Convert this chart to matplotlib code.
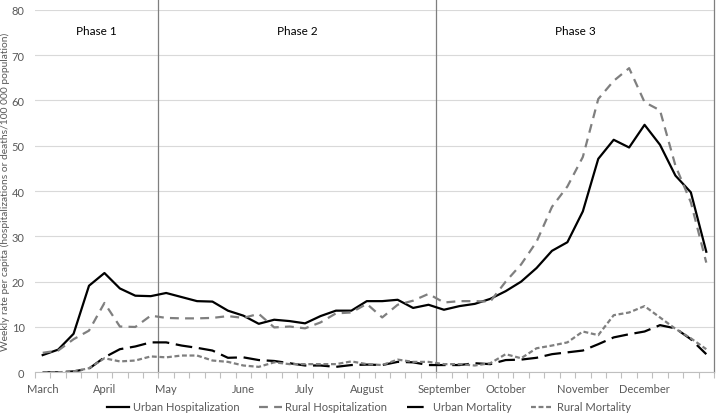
import matplotlib
matplotlib.use("Agg")
import matplotlib.pyplot as plt
import numpy as np

plt.rcParams['font.family'] = ['Lato', 'DejaVu Sans']

month_labels = ["March", "April", "May", "June", "July", "August",
                "September", "October", "November", "December"]
month_week_index = [0, 4, 8, 13, 17, 21, 26, 30, 35, 39]
n_weeks = 44

urban_hosp = [3.8, 5.0, 8.5, 19.1, 21.9, 18.5, 16.9, 16.8, 17.5, 16.6,
              15.7, 15.6, 13.6, 12.5, 10.7, 11.6, 11.3, 10.8, 12.4, 13.6,
              13.6, 15.7, 15.7, 16.0, 14.2, 14.9, 13.8, 14.6, 15.1, 16.2,
              17.9, 20.0, 23.0, 26.8, 28.7, 35.5, 47.1, 51.3, 49.6, 54.6,
              50.2, 43.4, 39.7, 26.6]
rural_hosp = [4.3, 4.8, 7.3, 9.2, 15.3, 10.1, 10.0, 12.5, 12.0, 11.9,
              11.9, 12.0, 12.4, 12.0, 12.9, 9.9, 10.1, 9.7, 11.0, 13.0,
              13.2, 15.1, 12.1, 14.9, 15.8, 17.3, 15.4, 15.7, 15.7, 15.6,
              20.0, 23.8, 28.8, 36.5, 41.0, 47.5, 60.3, 64.3, 67.1, 59.6,
              57.8, 45.6, 37.5, 24.2]
urban_mort = [0.0, 0.0, 0.2, 0.8, 3.3, 5.1, 5.7, 6.6, 6.6, 5.9,
              5.4, 4.8, 3.2, 3.3, 2.7, 2.5, 2.0, 1.5, 1.5, 1.2,
              1.6, 1.7, 1.6, 2.3, 2.2, 1.6, 1.6, 1.6, 2.0, 1.8,
              2.7, 2.8, 3.2, 4.0, 4.4, 4.8, 6.2, 7.7, 8.4, 9.0,
              10.4, 9.7, 7.3, 4.0]
rural_mort = [0.0, 0.0, 0.2, 0.9, 3.1, 2.4, 2.6, 3.5, 3.3, 3.7,
              3.7, 2.6, 2.3, 1.5, 1.2, 2.2, 1.8, 1.8, 1.8, 1.8,
              2.4, 1.8, 1.6, 2.8, 2.3, 2.3, 1.8, 1.8, 1.5, 2.0,
              4.0, 3.1, 5.3, 5.9, 6.6, 9.0, 8.2, 12.6, 13.2, 14.6,
              12.1, 9.6, 7.5, 5.1]
phase_labels = ["Phase 1", "Phase 2", "Phase 3"]
phase_bounds = [-0.5, 7.5, 25.5, 43.5]
y_label = "Weekly rate per capita (hospitalizations or deaths/100 000 population)"

W, H = 716, 414
fig = plt.figure(figsize=(W / 100, H / 100), dpi=100)
ax = fig.add_axes([35 / W, 1 - 373.3 / H, (714 - 35) / W, (373.3 - 10.7) / H])

x = np.arange(n_weeks)
gray = "#7f7f7f"
ax.plot(x, urban_hosp, color="black", lw=1.6, ls="-", label="Urban Hospitalization")
ax.plot(x, rural_hosp, color=gray, lw=1.6, ls=(0, (4, 2.8)), label="Rural Hospitalization")
ax.plot(x, urban_mort, color="black", lw=1.6, ls=(0, (7.5, 3)), label="Urban Mortality")
ax.plot(x, rural_mort, color=gray, lw=1.6, ls=(0, (2.2, 1.2)), label="Rural Mortality")

ax.set_xlim(-0.5, n_weeks - 0.5)
ax.set_ylim(0, 80)
ax.set_yticks(np.arange(0, 81, 10))
ax.yaxis.grid(True, color="#d9d9d9", lw=0.8)
ax.set_axisbelow(True)
for s in ["top", "right", "left"]:
    ax.spines[s].set_visible(False)
ax.spines["bottom"].set_color("#bfbfbf")
ax.spines["bottom"].set_linewidth(0.8)

ax.set_xticks(month_week_index)
ax.set_xticklabels(month_labels)
ax.set_xticks(np.arange(-0.5, n_weeks, 1), minor=True)
ax.tick_params(axis="x", which="major", length=0, pad=8, labelsize=8, labelcolor="#595959")
ax.tick_params(axis="x", which="minor", length=4, width=0.8, color="#bfbfbf", direction="out")
ax.tick_params(axis="y", length=0, pad=7.5, labelsize=8, labelcolor="#595959")

for b in phase_bounds[1:]:
    ax.plot([b, b], [0, 82.4], color=gray, lw=0.9, clip_on=False, zorder=1)
for i, lab in enumerate(phase_labels):
    ax.text((phase_bounds[i] + phase_bounds[i + 1]) / 2, 75.5, lab,
            ha="center", va="center", fontsize=8.5, color="black")

fig.text(5 / W, 1 - 192 / H, y_label, rotation=90, ha="center", va="center",
         fontsize=7.4, color="#595959")

fig.legend(loc="center", bbox_to_anchor=(369 / W, 1 - 408 / H), ncol=4, frameon=False,
           fontsize=8, labelcolor="#595959", handlelength=2.0, handletextpad=0.3,
           columnspacing=1.8)

fig.savefig("out.png", dpi=100)
